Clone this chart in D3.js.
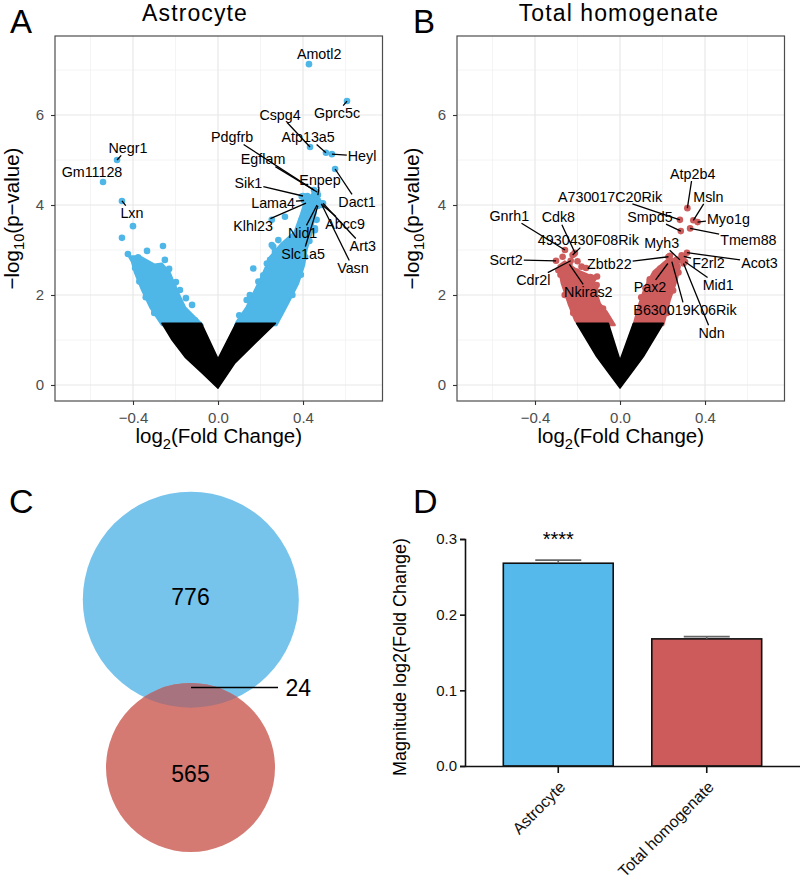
<!DOCTYPE html>
<html><head><meta charset="utf-8">
<script src="https://cdn.jsdelivr.net/npm/d3@7"></script>
<style>body{margin:0;background:#fff}svg{display:block}</style>
</head><body>
<svg id="fig" width="800" height="881"></svg>
<script>
// ================= DATA =================
const fcTicks = [-0.4, 0.0, 0.4];
const fcMinor = [-0.6, -0.2, 0.2, 0.6];
const pTicks = [0, 2, 4, 6];
const pMinor = [1, 3, 5, 7];

// ---- Panel A: Astrocyte volcano ----
const astroGenes = ["Amotl2","Gprc5c","Cspg4","Atp13a5","Heyl","Dact1","Pdgfrb","Egflam","Enpep","Sik1","Lama4","Klhl23","Nid1","Slc1a5","Abcc9","Art3","Vasn","Negr1","Gm11128","Lxn"];
const astroFC = [0.428,0.607,0.433,0.508,0.536,0.551,0.452,0.466,0.470,0.400,0.405,0.414,0.466,0.470,0.485,0.494,0.489,-0.475,-0.541,-0.452];
const astroP  = [7.13,6.31,5.29,5.16,5.13,4.80,4.33,4.29,4.22,4.20,4.10,4.04,4.00,3.98,4.02,4.04,4.00,5.00,4.51,4.09];
// repelled label anchors (data units)
const astroLabFC = [0.476,0.560,0.292,0.424,0.678,0.654,0.066,0.212,0.480,0.143,0.259,0.165,0.398,0.400,0.598,0.681,0.635,-0.424,-0.593,-0.405];
const astroLabP  = [7.36,6.04,6.00,5.51,5.09,4.07,5.51,5.02,4.56,4.49,4.04,3.53,3.38,2.91,3.58,3.09,2.60,5.27,4.73,3.82];
// other significant genes
const astroDotFC = [-0.400,-0.452,-0.424,-0.334,-0.259,-0.376,-0.250,-0.230,-0.198,-0.151,-0.122,-0.273,-0.289,-0.179,-0.108,
  -0.300,-0.340,-0.370,-0.390,-0.170,-0.210,-0.240,
  0.315,0.284,0.260,0.166,0.213,0.143,0.104,0.394,0.433,0.456,0.488,0.409,0.440,0.456,0.417,0.394,0.386,0.347,0.307,0.268,0.245,0.135,0.253,0.386,0.409,0.456,0.464,0.449,0.253,0.420,0.450,0.470,0.430,
  0.100,0.150,0.190,0.230,0.290,0.350,0.390,0.410,0.430];
const astroDotP = [3.53,3.27,2.91,2.98,3.09,2.84,2.78,2.58,2.29,1.93,1.78,2.63,2.44,2.11,1.44,
  1.60,1.95,2.30,2.60,1.75,2.20,2.45,
  3.74,3.22,3.07,2.59,2.44,1.89,1.41,4.19,4.11,4.26,4.04,3.81,3.67,3.44,3.44,3.67,3.30,3.04,3.00,2.96,2.78,1.89,3.11,3.15,3.37,3.48,3.67,3.81,3.67,4.20,4.15,4.10,3.95,
  1.55,2.00,2.30,2.70,1.60,2.00,2.45,2.85,3.20];
// dense clouds (outline of overlapping points) [log2FC, -log10 p]
const astroSigLeft = [[-0.264,1.33],[-0.320,1.73],[-0.358,2.11],[-0.391,2.49],[-0.405,2.73],[-0.420,2.86],[-0.367,2.86],[-0.300,2.68],[-0.264,2.70],[-0.226,2.49],[-0.193,2.11],[-0.155,1.73],[-0.071,1.33]];
const astroSigRight = [[0.080,1.33],[0.088,1.41],[0.135,1.74],[0.166,2.04],[0.205,2.41],[0.245,2.85],[0.300,3.15],[0.360,3.40],[0.390,3.80],[0.410,4.10],[0.445,4.25],[0.468,4.05],[0.452,3.70],[0.440,3.37],[0.417,3.00],[0.406,2.67],[0.378,2.26],[0.331,1.82],[0.276,1.33]];
const astroNS = [[-0.264,1.37],[-0.216,1.00],[-0.155,0.62],[-0.075,0.27],[0.000,-0.07],[0.080,0.49],[0.174,0.93],[0.270,1.37],[0.085,1.37],[0.000,0.58],[-0.078,1.37]];

// ---- Panel B: Total homogenate volcano ----
const homogGenes = ["Atp2b4","Msln","A730017C20Rik","Smpd5","Myo1g","Tmem88","Myh3","Zbtb22","F2rl2","Acot3","Mid1","Pax2","B630019K06Rik","Ndn","Gnrh1","Cdk8","4930430F08Rik","Scrt2","Cdr2l","Nkiras2"];
const homogFC = [0.317,0.345,0.282,0.286,0.365,0.330,0.282,0.228,0.300,0.315,0.306,0.225,0.244,0.299,-0.259,-0.212,-0.223,-0.301,-0.232,-0.238];
const homogP  = [3.93,3.66,3.67,3.42,3.62,3.48,2.78,2.85,2.86,2.94,2.74,2.70,2.74,2.70,3.00,2.94,2.89,2.76,2.76,2.68];
const homogLabFC = [0.342,0.416,-0.047,0.141,0.510,0.604,0.196,-0.050,0.416,0.656,0.462,0.141,0.306,0.431,-0.521,-0.290,-0.149,-0.536,-0.408,-0.149];
const homogLabP  = [4.70,4.19,4.19,3.74,3.70,3.22,3.16,2.69,2.72,2.72,2.22,2.17,1.67,1.16,3.76,3.73,3.22,2.78,2.33,2.07];
const homogDotFC = [-0.216,-0.181,-0.108,-0.110,-0.204,-0.200,-0.270,-0.160,-0.140,-0.290,
  -0.220,-0.260,-0.280,-0.080,-0.115,
  0.235,0.267,0.210,0.190,0.174,0.250,0.290,0.140,0.120,0.260,
  0.100,0.140,0.250,0.275,0.220];
const homogDotP = [2.91,2.63,2.41,2.22,2.52,2.75,2.85,2.60,2.40,2.55,
  1.60,2.00,2.45,1.70,2.10,
  2.87,2.79,2.65,2.59,2.41,2.70,2.88,2.30,2.15,2.60,
  1.95,2.35,2.10,2.50,1.60];
const homogSigLeft = [[-0.196,1.33],[-0.212,1.44],[-0.243,1.81],[-0.275,2.26],[-0.290,2.65],[-0.260,2.75],[-0.200,2.55],[-0.150,2.45],[-0.108,2.41],[-0.125,2.26],[-0.110,2.04],[-0.094,1.81],[-0.063,1.63],[-0.024,1.33]];
const homogSigRight = [[0.063,1.33],[0.086,1.74],[0.118,2.18],[0.157,2.52],[0.220,2.78],[0.267,2.81],[0.282,2.63],[0.267,2.33],[0.235,1.89],[0.204,1.33]];
const homogNS = [[-0.204,1.37],[-0.110,0.63],[-0.050,0.25],[0.000,-0.07],[0.050,0.25],[0.110,0.63],[0.204,1.37],[0.063,1.37],[0.000,0.55],[-0.055,1.37]];

// ---- Panel C: Venn ----
const vennNames = ["Astrocyte","Total homogenate"];
const vennOnly = [776, 565];
const vennShared = 24;

// ---- Panel D: bars ----
const barCats = ["Astrocyte","Total homogenate"];
const barMeans = [0.268, 0.168];
const barSEM = [0.004, 0.003];
const barTicks = [0.0, 0.1, 0.2, 0.3];
const barSig = ["****", ""];

// ================= DRAW =================
const FONT = "'Liberation Sans', Arial, Helvetica, sans-serif";
const svg = d3.select("#fig").style("font-family", FONT);
const BLUE = "#4fb6e8", RED = "#cd5c5c";

function subText(g, parts, size) {
  const t = g.append("text").attr("font-size", size);
  let down = false;
  parts.forEach(([s, sub]) => {
    const ts = t.append("tspan").text(s);
    if (sub) { ts.attr("font-size", size * 0.72).attr("dy", size * 0.28); down = true; }
    else if (down) { ts.attr("dy", -size * 0.28); down = false; }
  });
  return t;
}

function volcano(opt) {
  const g = svg.append("g");
  const x = d3.scaleLinear().domain([-0.767, 0.774]).range([opt.x0, opt.x1]);
  const y = d3.scaleLinear().domain([-0.356, 7.756]).range([401, 36]);
  const [X0, X1] = x.range(), [Y1, Y0] = y.range();
  const grid = g.append("g");
  fcMinor.forEach(v => grid.append("line").attr("x1", x(v)).attr("x2", x(v)).attr("y1", Y0).attr("y2", Y1).attr("stroke", "#f1f1f1").attr("stroke-width", 0.8));
  pMinor.forEach(v => grid.append("line").attr("y1", y(v)).attr("y2", y(v)).attr("x1", X0).attr("x2", X1).attr("stroke", "#f1f1f1").attr("stroke-width", 0.8));
  fcTicks.forEach(v => grid.append("line").attr("x1", x(v)).attr("x2", x(v)).attr("y1", Y0).attr("y2", Y1).attr("stroke", "#e8e8e8").attr("stroke-width", 1.2));
  pTicks.forEach(v => grid.append("line").attr("y1", y(v)).attr("y2", y(v)).attr("x1", X0).attr("x2", X1).attr("stroke", "#e8e8e8").attr("stroke-width", 1.2));

  const line = d3.line().x(d => x(d[0])).y(d => y(d[1])).curve(d3.curveLinearClosed);
  [opt.sigL, opt.sigR].forEach(poly => g.append("path").attr("d", line(poly)).attr("fill", opt.col).attr("stroke", opt.col).attr("stroke-width", 2).attr("stroke-linejoin", "round"));
  const r = 3.3;
  opt.dotFC.forEach((v, i) => g.append("circle").attr("cx", x(v)).attr("cy", y(opt.dotP[i])).attr("r", r).attr("fill", opt.col));
  opt.fc.forEach((v, i) => g.append("circle").attr("cx", x(v)).attr("cy", y(opt.p[i])).attr("r", r).attr("fill", opt.col));
  g.append("path").attr("d", line(opt.ns)).attr("fill", "#000").attr("stroke", "#000").attr("stroke-width", 1.5).attr("stroke-linejoin", "round");

  const segG = g.append("g"), labG = g.append("g");
  opt.genes.forEach((n, i) => {
    const px = x(opt.fc[i]), py = y(opt.p[i]);
    const lx = x(opt.lfc[i]), ly = y(opt.lp[i]);
    const t = labG.append("text").attr("x", lx).attr("y", ly).attr("dy", "0.36em").attr("text-anchor", "middle").attr("font-size", 14.3).attr("fill", "#000").text(n);
    const b = t.node().getBBox();
    const hw = b.width / 2 + 1, hh = 7.5;
    const dx = px - lx, dy = py - ly;
    const tt = Math.min(dx === 0 ? Infinity : hw / Math.abs(dx), dy === 0 ? Infinity : hh / Math.abs(dy));
    if (tt >= 1) return;
    const ex = lx + dx * tt, ey = ly + dy * tt;
    if (Math.hypot(px - ex, py - ey) < 6) return;
    segG.append("line").attr("x1", px).attr("y1", py).attr("x2", ex).attr("y2", ey).attr("stroke", "#000").attr("stroke-width", 1.3);
  });

  g.append("rect").attr("x", X0).attr("y", Y0).attr("width", X1 - X0).attr("height", Y1 - Y0).attr("fill", "none").attr("stroke", "#4d4d4d").attr("stroke-width", 1.2);
  const ax = g.append("g").attr("transform", `translate(0,${Y1})`).call(d3.axisBottom(x).tickValues(fcTicks).tickFormat(d3.format(".1f")).tickSize(4).tickPadding(7));
  const ay = g.append("g").attr("transform", `translate(${X0},0)`).call(d3.axisLeft(y).tickValues(pTicks).tickFormat(d3.format("d")).tickSize(4).tickPadding(7));
  [ax, ay].forEach(a => {
    a.select(".domain").remove();
    a.selectAll(".tick line").attr("stroke", "#333").attr("stroke-width", 1.1);
    a.selectAll(".tick text").attr("fill", "#4d4d4d").attr("font-size", 15).attr("font-family", FONT);
  });
  g.append("text").attr("x", opt.titleX).attr("y", 21).attr("text-anchor", "middle").attr("font-size", 23).attr("letter-spacing", 1.1).text(opt.title);
  const xt = subText(g, [["log", false], ["2", true], ["(Fold Change)", false]], 20.5);
  xt.attr("x", (X0 + X1) / 2).attr("y", 443).attr("text-anchor", "middle");
  const yt = subText(g, [["\u2212log", false], ["10", true], ["(p\u2212value)", false]], 20.5);
  yt.attr("text-anchor", "middle").attr("transform", `translate(${opt.yTitleX},${(Y0 + Y1) / 2}) rotate(-90)`);
  g.append("text").attr("x", opt.letterX).attr("y", 33).attr("font-size", 33).text(opt.letter);
}

volcano({x0: 55, x1: 382.5, col: BLUE, sigL: astroSigLeft, sigR: astroSigRight, ns: astroNS,
  dotFC: astroDotFC, dotP: astroDotP, genes: astroGenes, fc: astroFC, p: astroP, lfc: astroLabFC, lp: astroLabP,
  title: "Astrocyte", titleX: 195, yTitleX: 18.5, letter: "A", letterX: 10});
volcano({x0: 457, x1: 784.5, col: RED, sigL: homogSigLeft, sigR: homogSigRight, ns: homogNS,
  dotFC: homogDotFC, dotP: homogDotP, genes: homogGenes, fc: homogFC, p: homogP, lfc: homogLabFC, lp: homogLabP,
  title: "Total homogenate", titleX: 619, yTitleX: 418.5, letter: "B", letterX: 413});

// ---- Panel C: Venn ----
(function () {
  const g = svg.append("g");
  const circles = [{cx: 190.8, cy: 599.7, r: 108, fill: "#76c3ec"}, {cx: 190.5, cy: 767.5, r: 84.5, fill: "#d47a72"}];
  g.append("defs").append("clipPath").attr("id", "clipBlue").append("circle").attr("cx", circles[0].cx).attr("cy", circles[0].cy).attr("r", circles[0].r);
  circles.forEach(c => g.append("circle").attr("cx", c.cx).attr("cy", c.cy).attr("r", c.r).attr("fill", c.fill));
  g.append("circle").attr("cx", circles[1].cx).attr("cy", circles[1].cy).attr("r", circles[1].r).attr("fill", "#a7737e").attr("clip-path", "url(#clipBlue)");
  g.append("text").attr("x", 190.5).attr("y", 605).attr("text-anchor", "middle").attr("font-size", 23).text(vennOnly[0]);
  g.append("text").attr("x", 190.5).attr("y", 781.5).attr("text-anchor", "middle").attr("font-size", 23).text(vennOnly[1]);
  g.append("line").attr("x1", 191).attr("x2", 278).attr("y1", 687.5).attr("y2", 687.5).attr("stroke", "#000").attr("stroke-width", 1.3);
  g.append("text").attr("x", 285.5).attr("y", 695.5).attr("font-size", 23).text(vennShared);
  g.append("text").attr("x", 9).attr("y", 513).attr("font-size", 34).text("C");
})();

// ---- Panel D: bars ----
(function () {
  const g = svg.append("g");
  const x = d3.scaleBand().domain(barCats).range([465, 800]).paddingInner(0.26).paddingOuter(0.258);
  const y = d3.scaleLinear().domain([0, 0.3]).range([766, 539]);
  const cols = ["#56b9eb", "#cd5b5b"];
  barCats.forEach((c, i) => {
    g.append("rect").attr("x", x(c)).attr("y", y(barMeans[i])).attr("width", x.bandwidth()).attr("height", y(0) - y(barMeans[i]))
      .attr("fill", cols[i]).attr("stroke", "#111").attr("stroke-width", 1.6);
    const cx = x(c) + x.bandwidth() / 2;
    const hi = y(barMeans[i] + barSEM[i]);
    g.append("line").attr("x1", cx).attr("x2", cx).attr("y1", y(barMeans[i])).attr("y2", hi).attr("stroke", "#666").attr("stroke-width", 1.6);
    g.append("line").attr("x1", cx - 23).attr("x2", cx + 23).attr("y1", hi).attr("y2", hi).attr("stroke", "#666").attr("stroke-width", 1.8);
    if (barSig[i]) g.append("text").attr("x", cx).attr("y", 546).attr("text-anchor", "middle").attr("font-size", 20).text(barSig[i]);
  });
  const ay = g.append("g").attr("transform", "translate(465,0)").call(d3.axisLeft(y).tickValues(barTicks).tickFormat(d3.format(".1f")).tickSize(5).tickPadding(3));
  ay.select(".domain").attr("stroke", "#111").attr("stroke-width", 1.6);
  ay.selectAll(".tick line").attr("stroke", "#111").attr("stroke-width", 1.6);
  ay.selectAll(".tick text").attr("fill", "#111").attr("font-size", 15).attr("font-family", FONT);
  const ax = g.append("g").attr("transform", "translate(0,766)").call(d3.axisBottom(x).tickSize(7).tickSizeOuter(0));
  ax.select(".domain").attr("stroke", "#111").attr("stroke-width", 1.6);
  ax.selectAll(".tick line").attr("stroke", "#111").attr("stroke-width", 1.6);
  ax.selectAll(".tick text").attr("fill", "#111").attr("font-size", 16).attr("font-family", FONT)
    .attr("text-anchor", "end").attr("dy", 0).attr("transform", "translate(1,15) rotate(-45)");
  g.append("text").attr("text-anchor", "middle").attr("font-size", 18)
    .attr("transform", `translate(406,657) rotate(-90)`).text("Magnitude log2(Fold Change)");
  g.append("text").attr("x", 413).attr("y", 513).attr("font-size", 34).text("D");
})();
</script>
</body></html>
